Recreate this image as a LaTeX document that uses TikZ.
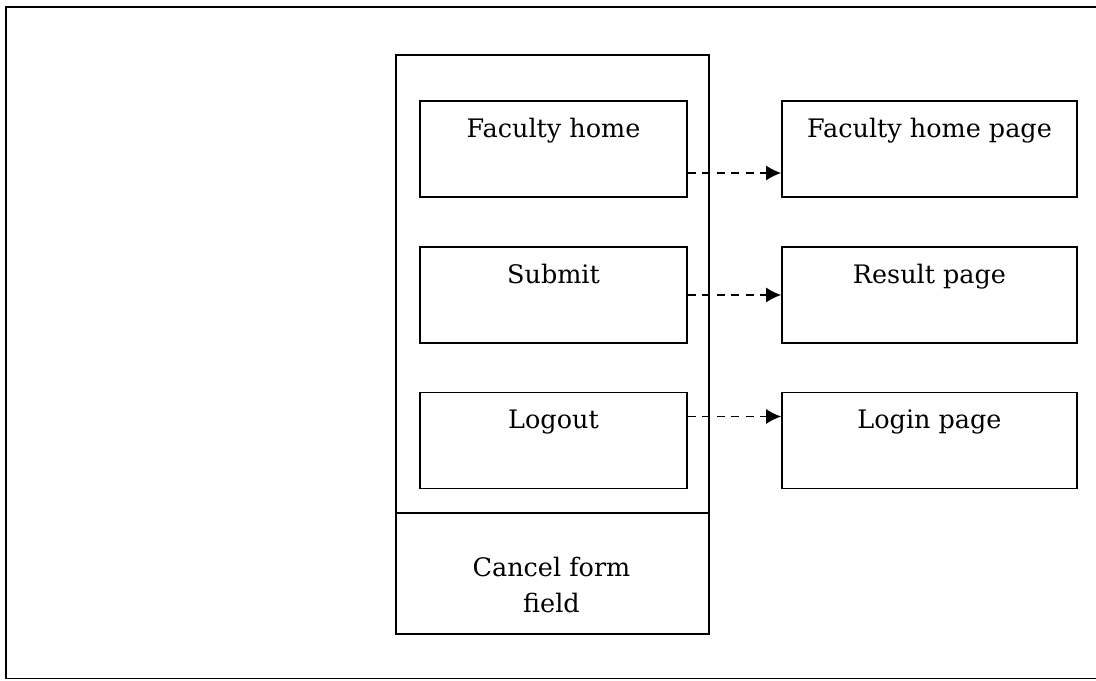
\documentclass[tikz,border=0pt]{standalone}
\usepackage{fontspec}
\setmainfont{DejaVu Serif}
\usetikzlibrary{arrows.meta}

\tikzset{
    pagebox/.style={draw, line width=0.9pt, minimum height=1.92cm},
    btnbox/.style={pagebox, minimum width=5.34cm},
    destbox/.style={pagebox, minimum width=5.9cm},
    boxtext/.style={anchor=base, font=\fontsize{14.5}{21}\selectfont},
    linkarrow/.style={line width=1pt, dash pattern=on 0.16cm off 0.13cm, -{Latex[length=3mm, width=3mm]}}
}

\begin{document}
\begin{tikzpicture}
    \newcommand\bx{11.07}
    \newcommand\dx{18.59}
    \newcommand\rowa{10.62}
    \newcommand\rowb{7.7}
    \newcommand\rowc{4.79}
    \newcommand\arrowoff{0.48}

    \useasboundingbox (0,0) rectangle (21.92,13.6);

    % outer frame
    \draw[line width=0.9pt] (21.92,13.46) -- (0.12,13.46) -- (0.12,0.03) -- (21.92,0.03);

    % menu column
    \node[draw, line width=0.9pt, anchor=north west, minimum width=6.26cm, minimum height=11.58cm] (menu) at (7.9,12.52) {};
    \coordinate (divl) at (7.9,3.34);
    \coordinate (divr) at (14.16,3.34);
    \draw[line width=0.9pt] (divl) -- (divr);
    \node[align=center, font=\fontsize{14.5}{21}\selectfont] (cancel) at (11.03,1.9) {Cancel form\\field};

    % buttons
    \node[btnbox] (fachome) at (\bx,\rowa) {};
    \node[btnbox] (submit) at (\bx,\rowb) {};
    \node[btnbox] (logout) at (\bx,\rowc) {};
    \node[boxtext] (fachometxt) at ([yshift=-0.74cm]fachome.north) {Faculty home};
    \node[boxtext] (submittxt) at ([yshift=-0.74cm]submit.north) {Submit};
    \node[boxtext] (logouttxt) at ([yshift=-0.74cm]logout.north) {Logout};

    % target pages
    \node[destbox] (fachomepage) at (\dx,\rowa) {};
    \node[destbox] (resultpage) at (\dx,\rowb) {};
    \node[destbox] (loginpage) at (\dx,\rowc) {};
    \node[boxtext] (fachomepagetxt) at ([yshift=-0.74cm]fachomepage.north) {Faculty home page};
    \node[boxtext] (resultpagetxt) at ([yshift=-0.74cm]resultpage.north) {Result page};
    \node[boxtext] (loginpagetxt) at ([yshift=-0.74cm]loginpage.north) {Login page};

    % links
    \draw[linkarrow] ([yshift=-\arrowoff cm]fachome.east) -- ([yshift=-\arrowoff cm]fachomepage.west);
    \draw[linkarrow] (submit.east) -- (resultpage.west);
    \draw[linkarrow] ([yshift=\arrowoff cm]logout.east) -- ([yshift=\arrowoff cm]loginpage.west);
\end{tikzpicture}
\end{document}
